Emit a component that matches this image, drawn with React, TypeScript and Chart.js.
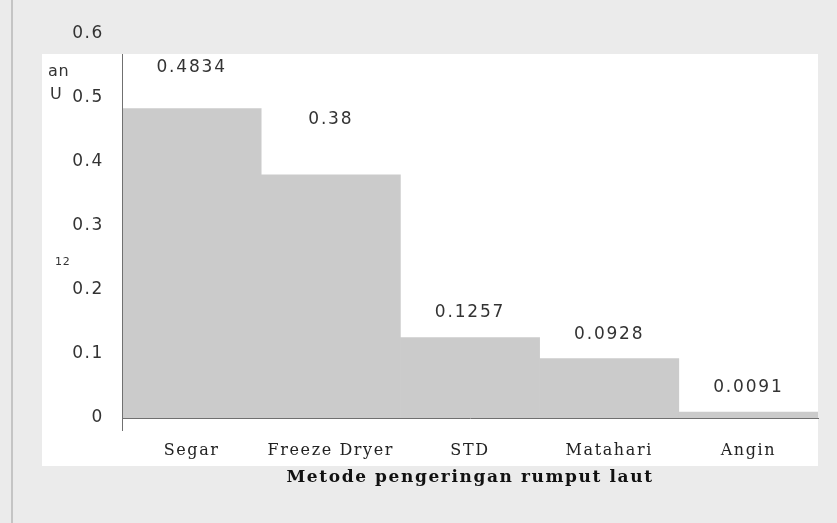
import React, { useEffect, useRef } from 'react';
import { Chart, registerables } from 'chart.js';

Chart.register(...registerables);

const categories = ['Segar', 'Freeze Dryer', 'STD', 'Matahari', 'Angin'];
const values = [0.4834, 0.38, 0.1257, 0.0928, 0.0091];
const valueLabels = ['0.4834', '0.38', '0.1257', '0.0928', '0.0091'];
const yTickValues = [0, 0.1, 0.2, 0.3, 0.4, 0.5, 0.6];
const xTitle = 'Metode pengeringan rumput laut';
const strayTexts = ['an', 'U', '12'];

const labelLift = [41, 55, 25, 24, 25];

const decorPlugin = {
  id: 'decor',
  beforeDraw(chart: any) {
    const { ctx, chartArea, width, height } = chart;
    ctx.save();
    ctx.fillStyle = '#ebebeb';
    ctx.fillRect(0, 0, width, height);
    ctx.fillStyle = '#c4c4c4';
    ctx.fillRect(11, 0, 2, height);
    ctx.fillStyle = '#ffffff';
    const pl = chartArea.left - 80;
    const pt = chartArea.top + 20;
    ctx.fillRect(pl, pt, chartArea.right - pl, chartArea.bottom + 48 - pt);
    ctx.restore();
    ctx.letterSpacing = '1.6px';
  },
  afterDatasetsDraw(chart: any) {
    const { ctx, chartArea } = chart;
    const meta = chart.getDatasetMeta(0);
    ctx.save();
    ctx.letterSpacing = '1.8px';
    ctx.font = '17px "DejaVu Sans"';
    ctx.fillStyle = '#333333';
    ctx.textAlign = 'center';
    ctx.textBaseline = 'middle';
    meta.data.forEach((bar: any, i: number) => {
      ctx.fillText(valueLabels[i], bar.x, bar.y - labelLift[i]);
    });
    // y axis line
    ctx.strokeStyle = '#707070';
    ctx.lineWidth = 1;
    ctx.beginPath();
    ctx.moveTo(chartArea.left + 0.5, chartArea.top + 20);
    ctx.lineTo(chartArea.left + 0.5, chartArea.bottom + 13);
    ctx.stroke();
    // stray texts
    ctx.letterSpacing = '0.8px';
    ctx.textAlign = 'left';
    ctx.font = '16px "DejaVu Sans"';
    ctx.fillText(strayTexts[0], chartArea.left - 74, chartArea.top + 38);
    ctx.fillText(strayTexts[1], chartArea.left - 72, chartArea.top + 61);
    ctx.font = '11px "DejaVu Sans"';
    ctx.fillText(strayTexts[2], chartArea.left - 67, chartArea.top + 228);
    ctx.restore();
  },
};

export default function App() {
  const ref = useRef<HTMLCanvasElement>(null);
  useEffect(() => {
    if (!ref.current) return;
    const chart = new Chart(ref.current, {
      type: 'bar',
      data: {
        labels: categories,
        datasets: [
          {
            data: values,
            backgroundColor: '#cbcbcb',
            borderWidth: 0,
            barPercentage: 1,
            categoryPercentage: 1,
          },
        ],
      },
      options: {
        animation: false,
        responsive: false,
        devicePixelRatio: 1,
        layout: { padding: { left: 0, right: 19, top: 34, bottom: 0 } },
        plugins: { legend: { display: false }, tooltip: { enabled: false } },
        scales: {
          x: {
            grid: { display: false, drawTicks: false },
            border: { display: true, color: '#707070', width: 1 },
            ticks: {
              padding: 23,
              color: '#222222',
              font: { family: 'DejaVu Serif', size: 16 },
              maxRotation: 0,
            },
            title: {
              display: true,
              text: xTitle,
              color: '#111111',
              font: { family: 'DejaVu Serif', size: 17, weight: 'bold' },
              padding: { top: 0, bottom: 35 },
            },
            afterFit(scale: any) {
              scale.height = 105;
            },
          },
          y: {
            min: 0,
            max: 0.6,
            grid: { display: false, drawTicks: false },
            border: { display: false },
            afterBuildTicks(scale: any) {
              scale.ticks = yTickValues.map((v) => ({ value: v }));
            },
            ticks: {
              padding: 18,
              color: '#333333',
              font: { family: 'DejaVu Sans', size: 17 },
              callback: (v: any) => (Number(v) === 0 ? '0' : Number(v).toFixed(1)),
            },
            afterFit(scale: any) {
              scale.width = 122;
            },
          },
        },
      },
      plugins: [decorPlugin],
    });
    return () => chart.destroy();
  }, []);
  return (
    <div style={{ position: 'fixed', left: 0, top: 0, width: 837, height: 523 }}>
      <canvas ref={ref} width={837} height={523} />
    </div>
  );
}
